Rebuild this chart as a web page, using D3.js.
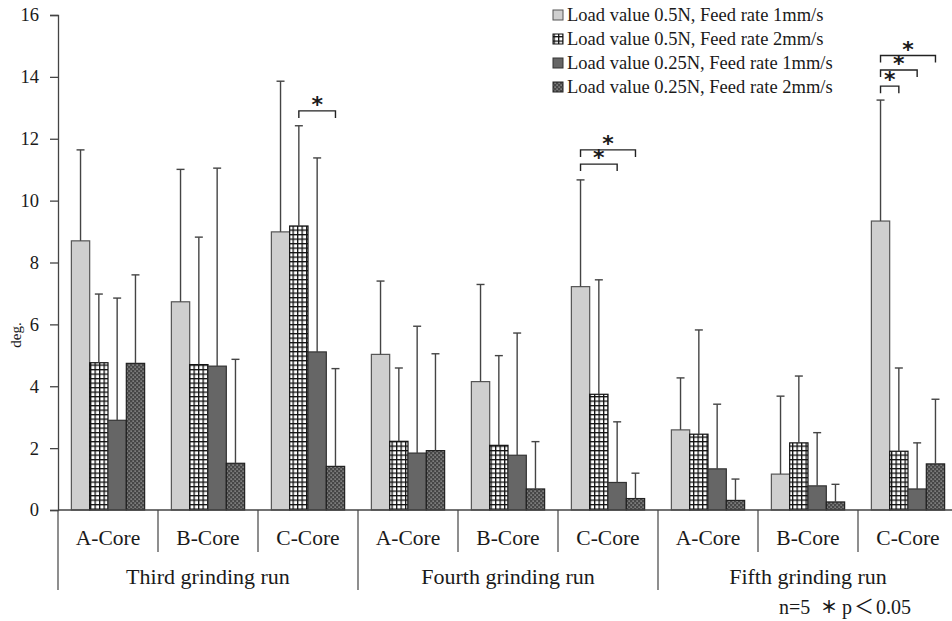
<!DOCTYPE html>
<html><head><meta charset="utf-8">
<script src="https://cdn.jsdelivr.net/npm/d3@7"></script>
<style>body{margin:0;background:#fff}svg{display:block}text{font-family:"Liberation Serif","Times New Roman",serif;fill:#1a1a1a}</style>
</head><body><svg id="c" width="952" height="621"></svg>
<script>
const runs = ["Third grinding run", "Fourth grinding run", "Fifth grinding run"];
const cores = ["A-Core", "B-Core", "C-Core"];
const seriesNames = [
  "Load value 0.5N, Feed rate 1mm/s",
  "Load value 0.5N, Feed rate 2mm/s",
  "Load value 0.25N, Feed rate 1mm/s",
  "Load value 0.25N, Feed rate 2mm/s"
];
// means, 9 groups: Third A,B,C / Fourth A,B,C / Fifth A,B,C
const mean_05_1 = [8.70, 6.73, 8.99, 5.03, 4.15, 7.22, 2.59, 1.16, 9.34];
const mean_05_2 = [4.76, 4.70, 9.18, 2.22, 2.09, 3.74, 2.45, 2.17, 1.90];
const mean_025_1 = [2.90, 4.65, 5.11, 1.84, 1.77, 0.89, 1.33, 0.78, 0.68];
const mean_025_2 = [4.74, 1.51, 1.41, 1.92, 0.68, 0.37, 0.31, 0.26, 1.49];
// standard deviations
const sd_05_1 = [2.94, 4.28, 4.87, 2.37, 3.14, 3.45, 1.68, 2.52, 3.91];
const sd_05_2 = [2.22, 4.12, 3.24, 2.37, 2.90, 3.70, 3.37, 2.16, 2.69];
const sd_025_1 = [3.95, 6.40, 6.27, 4.10, 3.95, 1.96, 2.09, 1.72, 1.49];
const sd_025_2 = [2.86, 3.36, 3.16, 3.13, 1.53, 0.82, 0.69, 0.57, 2.09];
const yTicks = [0, 2, 4, 6, 8, 10, 12, 14, 16];
// significance brackets: group index, series from, series to, bracket level (deg.)
const sigGroup = [2, 5, 5, 8, 8, 8];
const sigFrom = [1, 0, 0, 0, 0, 0];
const sigTo = [3, 2, 3, 1, 2, 3];
const sigLevel = [12.9, 11.18, 11.64, 13.7, 14.22, 14.69];

const means = [mean_05_1, mean_05_2, mean_025_1, mean_025_2];
const sds = [sd_05_1, sd_05_2, sd_025_1, sd_025_2];
const groups = [];
runs.forEach(r => cores.forEach(c => groups.push(r + "|" + c)));

const svg = d3.select("#c");
const defs = svg.append("defs");
const pg = defs.append("pattern").attr("id","grid").attr("patternUnits","userSpaceOnUse").attr("width",4.5).attr("height",4.5);
pg.append("rect").attr("width",4.5).attr("height",4.5).attr("fill","#fff");
pg.append("rect").attr("width",4.5).attr("height",1.3).attr("fill","#111");
pg.append("rect").attr("width",1.3).attr("height",4.5).attr("fill","#111");
const pd = defs.append("pattern").attr("id","dots").attr("patternUnits","userSpaceOnUse").attr("width",4).attr("height",4);
pd.append("rect").attr("width",4).attr("height",4).attr("fill","#474747");
pd.append("rect").attr("x",0.5).attr("y",0.5).attr("width",1.2).attr("height",1.2).attr("fill","#b5b5b5");
pd.append("rect").attr("x",2.5).attr("y",2.5).attr("width",1.2).attr("height",1.2).attr("fill","#b5b5b5");
const fills = ["#cfcfcf", "url(#grid)", "#666666", "url(#dots)"];
const strokes = ["#555", "#111", "#333", "#222"];

const x0 = d3.scaleBand().domain(groups).range([58, 958]).paddingInner(0).paddingOuter(0);
const x1 = d3.scaleBand().domain(d3.range(4)).range([0, x0.bandwidth()]).paddingInner(0).paddingOuter(0.73);
const y = d3.scaleLinear().domain([0, 16]).range([510, 15]);

const yAxis = d3.axisLeft(y).tickValues(yTicks).tickSize(8).tickPadding(11).tickFormat(d3.format("d"));
const ga = svg.append("g").attr("transform","translate(58,0)").call(yAxis);
ga.select(".domain").attr("stroke","#444").attr("stroke-width",1.3);
ga.selectAll(".tick line").attr("stroke","#444").attr("stroke-width",1.3);
ga.selectAll(".tick text").attr("font-size",18.5).attr("fill","#1a1a1a");
svg.append("text").attr("transform","translate(21,335) rotate(-90)").attr("text-anchor","middle").attr("font-size",15).text("deg.");

const bars = svg.append("g");
for (let s = 0; s < 4; s++) {
  bars.selectAll(".b" + s).data(groups).join("rect")
    .attr("x", g => x0(g) + x1(s))
    .attr("y", (g, i) => y(means[s][i]))
    .attr("width", x1.bandwidth())
    .attr("height", (g, i) => y(0) - y(means[s][i]))
    .attr("fill", fills[s]).attr("stroke", strokes[s]).attr("stroke-width", 1.2);
}
const eb = svg.append("g").attr("stroke","#444").attr("stroke-width",1.4);
for (let s = 0; s < 4; s++) {
  groups.forEach((g, i) => {
    const cx = x0(g) + x1(s) + x1.bandwidth() / 2;
    const top = y(means[s][i] + sds[s][i]);
    eb.append("line").attr("x1",cx).attr("x2",cx).attr("y1",y(means[s][i])).attr("y2",top);
    eb.append("line").attr("x1",cx-4).attr("x2",cx+4).attr("y1",top).attr("y2",top);
  });
}
svg.append("line").attr("x1",58).attr("x2",958).attr("y1",510).attr("y2",510).attr("stroke","#444").attr("stroke-width",1.3);
groups.forEach((g, i) => {
  const xs = x0(g);
  const big = i % 3 === 0;
  svg.append("line").attr("x1",xs).attr("x2",xs).attr("y1",510).attr("y2", big ? 590 : 552).attr("stroke","#444").attr("stroke-width",1.2);
  svg.append("text").attr("x", xs + x0.bandwidth()/2).attr("y", 545).attr("text-anchor","middle").attr("font-size",21.5).text(g.split("|")[1]);
});
runs.forEach((r, k) => {
  const xs = x0(groups[k*3]);
  svg.append("text").attr("x", xs + x0.bandwidth()*1.5).attr("y", 584).attr("text-anchor","middle").attr("font-size",22).text(r);
});
const sg = svg.append("g");
sigGroup.forEach((gi, k) => {
  const g = groups[gi];
  const xa = x0(g) + x1(sigFrom[k]) + x1.bandwidth()/2;
  const xb = x0(g) + x1(sigTo[k]) + x1.bandwidth()/2;
  const yy = y(sigLevel[k]);
  sg.append("path").attr("d", `M${xa},${yy+7}V${yy}H${xb}V${yy+7}`).attr("fill","none").attr("stroke","#222").attr("stroke-width",1.4);
  sg.append("text").attr("x",(xa+xb)/2).attr("y",yy+1).attr("text-anchor","middle").attr("font-size",22).attr("font-weight","bold").style("font-family","DejaVu Sans").text("*");
});
const lg = svg.append("g");
seriesNames.forEach((n, s) => {
  const yy = 15 + s * 24;
  lg.append("rect").attr("x",553).attr("y",yy-5).attr("width",10).attr("height",10).attr("fill",fills[s]).attr("stroke",strokes[s]).attr("stroke-width",1);
  lg.append("text").attr("x",567).attr("y",yy+6).attr("font-size",18.5).text(n);
});
svg.append("text").attr("x",779).attr("y",614).attr("font-size",20).text("n=5");
svg.append("text").attr("x",829).attr("y",613).attr("text-anchor","middle").attr("font-size",17).attr("font-weight","bold").style("font-family","Noto Sans CJK JP").text("＊");
const note = svg.append("text").attr("x",842).attr("y",614).attr("font-size",20);
note.append("tspan").text("p");
note.append("tspan").attr("dx",2).style("font-family","Noto Sans CJK JP").attr("font-size",20).text("＜");
note.append("tspan").attr("dx",2).text("0.05");
</script></body></html>
